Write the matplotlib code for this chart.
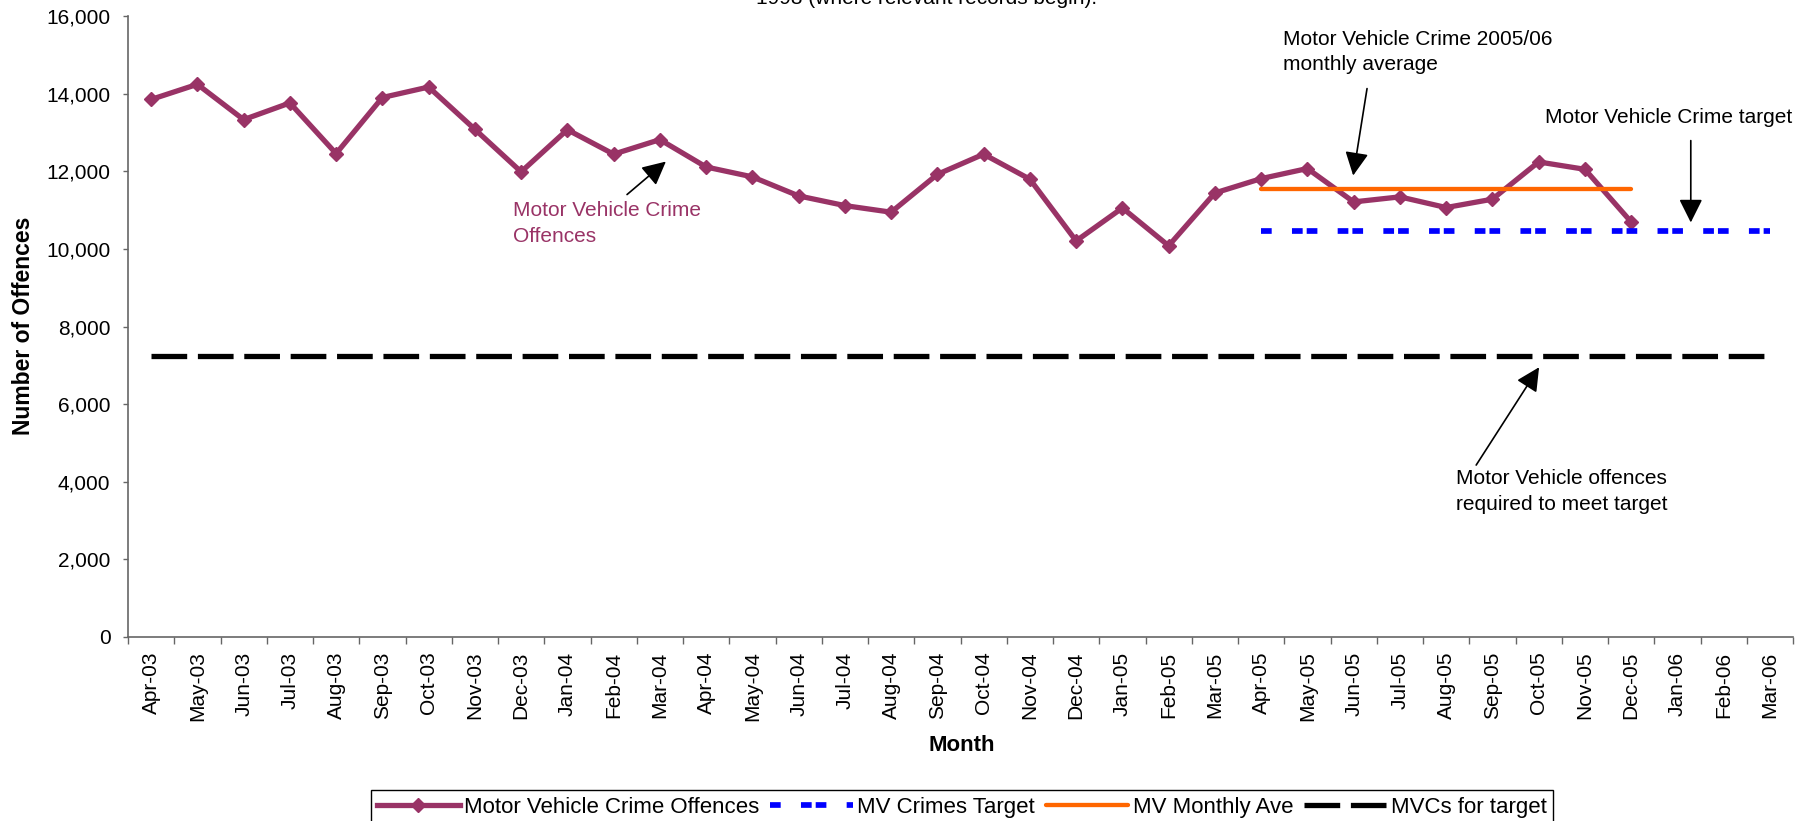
import numpy as np
import matplotlib
matplotlib.use("Agg")
import matplotlib.pyplot as plt
from matplotlib.ticker import FuncFormatter, NullFormatter

plt.rcParams['font.family'] = ['Liberation Sans', 'DejaVu Sans']
plt.rcParams['lines.scale_dashes'] = False

# Monthly categories, Apr-03 .. Mar-06
months = ["Apr-03", "May-03", "Jun-03", "Jul-03", "Aug-03", "Sep-03", "Oct-03",
          "Nov-03", "Dec-03", "Jan-04", "Feb-04", "Mar-04", "Apr-04", "May-04",
          "Jun-04", "Jul-04", "Aug-04", "Sep-04", "Oct-04", "Nov-04", "Dec-04",
          "Jan-05", "Feb-05", "Mar-05", "Apr-05", "May-05", "Jun-05", "Jul-05",
          "Aug-05", "Sep-05", "Oct-05", "Nov-05", "Dec-05", "Jan-06", "Feb-06",
          "Mar-06"]

# Recorded motor vehicle crime offences (Apr-03 .. Dec-05)
offences = [13850, 14240, 13330, 13760, 12455, 13900, 14170, 13080, 11985,
            13070, 12440, 12815, 12110, 11855, 11365, 11115, 10945, 11920,
            12440, 11795, 10205, 11055, 10080, 11440, 11810, 12070, 11210,
            11340, 11065, 11280, 12240, 12050, 10695]

# Reference levels
target_level = 10460      # MV crimes target, 2005/06
target_months = ("Apr-05", "Mar-06")
avg_level = 11530         # 2005/06 monthly average so far
avg_months = ("Apr-05", "Dec-05")
mvc_level = 7250          # offences per month needed to meet target

purple = '#993366'

fig = plt.figure(figsize=(18.16, 8.21), dpi=100)
ax = fig.add_axes([128 / 1816, 1 - 637 / 821, 1665 / 1816, 621 / 821])

x = np.arange(len(months))
t0, t1 = months.index(target_months[0]), months.index(target_months[1])
a0, a1 = months.index(avg_months[0]), months.index(avg_months[1])

ax.plot(x[:len(offences)], offences, color=purple, lw=3.8, marker='D',
        ms=7.5, label='Motor Vehicle Crime Offences', zorder=3)
ax.plot(x[t0:t1 + 1], [target_level] * (t1 - t0 + 1), color='#0000FF', lw=4.1,
        dashes=[7.7, 14.6, 7.7, 2.9], label='MV Crimes Target', zorder=4)
ax.plot(x[a0:a1 + 1], [avg_level] * (a1 - a0 + 1), color='#FF6600', lw=3.1,
        solid_capstyle='round', label='MV Monthly Ave', zorder=5)
ax.plot(x, [mvc_level] * len(x), color='black', lw=3.8,
        dashes=[25.7, 7.7], label='MVCs for target', zorder=4)

# axes
ax.set_xlim(-0.5, len(months) - 0.5)
ax.set_ylim(0, 16000)
ax.set_yticks(range(0, 16001, 2000))
ax.yaxis.set_major_formatter(FuncFormatter(lambda v, p: f"{v:,.0f}"))
ax.set_xticks(np.arange(-0.5, len(months), 1))
ax.xaxis.set_major_formatter(NullFormatter())
ax.set_xticks(x, minor=True)
ax.set_xticklabels(months, minor=True, rotation=90, fontsize=15)
ax.tick_params(axis='x', which='major', length=5, width=1, color='#666666')
ax.tick_params(axis='x', which='minor', length=0, pad=10.5)
ax.tick_params(axis='y', length=3.6, width=1, color='#666666', pad=9,
               labelsize=15)
for s in ['top', 'right']:
    ax.spines[s].set_visible(False)
for s in ['left', 'bottom']:
    ax.spines[s].set_color('#666666')
    ax.spines[s].set_linewidth(1.2)

fig.text(24 / 1816, 1 - 326 / 821, 'Number of Offences', rotation=90,
         ha='center', va='center', fontsize=16.5, fontweight='bold')
fig.text(962 / 1816, 1 - 745 / 821, 'Month', ha='center', va='center',
         fontsize=16, fontweight='bold')

# title line, mostly off the top edge
fig.text(927 / 1816, 1 - 3.5 / 821, '1998 (where relevant records begin).',
         ha='center', va='baseline', fontsize=15)

# callouts
arrow = dict(arrowstyle='-|>,head_length=0.4,head_width=0.2', color='black',
             lw=1.2, mutation_scale=36, shrinkA=0, shrinkB=0)
ax.text(7.82, 11230, 'Motor Vehicle Crime\nOffences', color=purple,
        fontsize=15, ha='left', va='top', linespacing=1.45)
ax.annotate('', xy=(11.13, 12250), xytext=(10.29, 11400), arrowprops=arrow)

ax.text(24.47, 15650, 'Motor Vehicle Crime 2005/06\nmonthly average',
        fontsize=15, ha='left', va='top', linespacing=1.45)
ax.annotate('', xy=(25.99, 11890), xytext=(26.29, 14130), arrowprops=arrow)

ax.text(30.14, 13640, 'Motor Vehicle Crime target', fontsize=15,
        ha='left', va='top')
ax.annotate('', xy=(33.29, 10680), xytext=(33.29, 12790), arrowprops=arrow)

ax.text(28.21, 4320, 'Motor Vehicle offences\nrequired to meet target',
        fontsize=15, ha='left', va='top', linespacing=1.45)
ax.annotate('', xy=(30.01, 6950), xytext=(28.65, 4430), arrowprops=arrow)

leg = fig.legend(loc='upper center', bbox_to_anchor=(962 / 1816, 1 - 790 / 821),
                 ncol=4, fontsize=16, frameon=True, fancybox=False,
                 edgecolor='black', framealpha=1, borderaxespad=0,
                 handlelength=3.7, handletextpad=0.2, columnspacing=0.5,
                 borderpad=0.3)
leg.get_frame().set_linewidth(1)

fig.savefig('out.png', dpi=100)
